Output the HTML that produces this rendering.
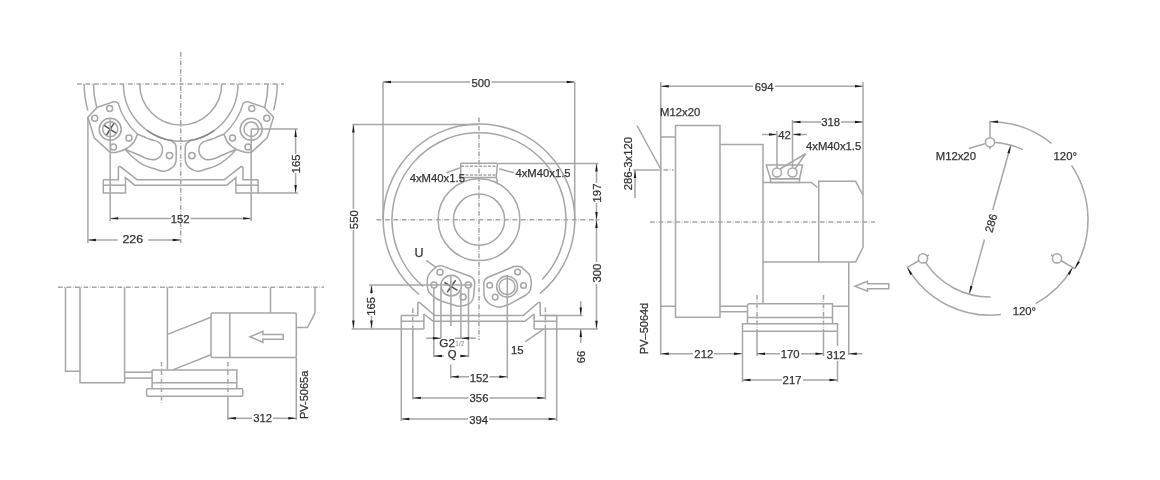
<!DOCTYPE html>
<html><head><meta charset="utf-8"><style>
html,body{margin:0;padding:0;background:#fff;overflow:hidden;}
svg{display:block;filter:grayscale(1);}
svg line, svg polyline, svg polygon, svg path, svg circle, svg rect{fill:none;stroke:#a6a6a6;stroke-width:1.5;}
svg .dd{stroke-dasharray:4.7 1.6 0.6 1.6;}
svg .ah{fill:#1a1a1a;stroke:none;}
svg .dk{stroke:#555;}
svg .dk2{stroke:#8a8a8a;}
svg .dash{stroke-dasharray:3 1.5;}
svg .wf{fill:#fff;}
svg text.tl{fill:#999;stroke:#999;stroke-width:0.1;}
svg text{font-family:"Liberation Sans",sans-serif;fill:#333;stroke:#333;stroke-width:0.25;}
</style></head><body>
<svg width="1160" height="480" viewBox="0 0 1160 480">
<line x1="77.00" y1="84.00" x2="284.00" y2="84.00" class="dd"/>
<line x1="180.70" y1="52.00" x2="180.70" y2="243.00" class="dd"/>
<path d="M221.70,84.00 A41.00,41.00 0 0 1 139.70,84.00"/>
<path d="M238.00,84.00 A57.30,57.30 0 0 1 123.40,84.00"/>
<path d="M84.20,84.00 A96.50,96.50 0 0 0 87.89,110.44"/>
<path d="M277.20,84.00 A96.50,96.50 0 0 1 273.51,110.44"/>
<path d="M93.50,84.00 A87.20,87.20 0 0 0 96.67,107.30"/>
<path d="M267.90,84.00 A87.20,87.20 0 0 1 264.73,107.30"/>
<path d="M87.90,117.2 L97.00,107.4 L113.60,101.8 Q116.30,101.2 118.20,103.4 A65.44,65.44 0 0 0 137.50,134.2 L137.50,134.20 C136.95,135.42 135.53,139.45 134.20,141.50 C132.87,143.55 131.03,145.22 129.50,146.50 C127.97,147.78 126.87,148.33 125.00,149.20 C123.13,150.07 120.38,151.13 118.30,151.70 C116.22,152.27 113.97,152.58 112.50,152.60 C111.03,152.62 110.00,151.93 109.50,151.80  L94.20,137.8 Z"/>
<circle cx="94.70" cy="118.30" r="3.00"/>
<circle cx="109.60" cy="108.60" r="3.00"/>
<circle cx="128.90" cy="137.90" r="3.00"/>
<circle cx="113.40" cy="147.10" r="3.00"/>
<path d="M125.00,149.20 C126.08,150.33 129.00,153.73 131.50,156.00 C134.00,158.27 137.42,161.07 140.00,162.80 C142.58,164.53 144.65,165.42 147.00,166.40 C149.35,167.38 151.93,167.98 154.10,168.70 C156.27,169.42 158.28,170.27 160.00,170.70 C161.72,171.13 163.02,171.42 164.40,171.30 C165.78,171.18 167.12,170.52 168.30,170.00 C169.48,169.48 170.52,168.97 171.50,168.20 C172.48,167.43 173.47,166.52 174.20,165.40 C174.93,164.28 175.57,163.07 175.90,161.50 C176.23,159.93 176.15,157.92 176.20,156.00 C176.25,154.08 176.25,151.67 176.20,150.00 C176.15,148.33 176.15,147.12 175.90,146.00 C175.65,144.88 175.37,144.07 174.70,143.30 C174.03,142.53 172.37,141.72 171.90,141.40 "/>
<path d="M137.50,134.20 C138.58,134.63 141.92,135.95 144.00,136.80 C146.08,137.65 148.23,138.67 150.00,139.30 C151.77,139.93 153.20,140.13 154.60,140.60 C156.00,141.07 157.33,141.42 158.40,142.10 C159.47,142.78 160.33,143.67 161.00,144.70 C161.67,145.73 162.20,147.03 162.40,148.30 C162.60,149.57 162.53,150.98 162.20,152.30 C161.87,153.62 161.40,155.05 160.40,156.20 C159.40,157.35 157.77,158.63 156.20,159.20 C154.63,159.77 152.70,159.77 151.00,159.60 C149.30,159.43 147.83,158.88 146.00,158.20 C144.17,157.52 142.33,156.52 140.00,155.50 C137.67,154.48 134.50,153.15 132.00,152.10 C129.50,151.05 126.17,149.68 125.00,149.20 "/>
<circle cx="169.50" cy="155.60" r="3.20"/>
<polyline points="103.30,179.80 118.40,179.80 118.40,167.60 119.20,166.60 120.60,166.80 137.20,179.80 180.70,179.80"/>
<polyline points="103.30,179.80 103.30,193.10 125.50,193.10 125.50,177.70 134.60,185.20 180.70,185.20"/>
<line x1="103.30" y1="185.20" x2="125.50" y2="185.20"/>
<path d="M273.50,117.2 L264.40,107.4 L247.80,101.8 Q245.10,101.2 243.20,103.4 A65.44,65.44 0 0 1 223.90,134.2 L223.90,134.20 C224.45,135.42 225.87,139.45 227.20,141.50 C228.53,143.55 230.37,145.22 231.90,146.50 C233.43,147.78 234.53,148.33 236.40,149.20 C238.27,150.07 241.02,151.13 243.10,151.70 C245.18,152.27 247.43,152.58 248.90,152.60 C250.37,152.62 251.40,151.93 251.90,151.80  L267.20,137.8 Z"/>
<circle cx="266.70" cy="118.30" r="3.00"/>
<circle cx="251.80" cy="108.60" r="3.00"/>
<circle cx="232.50" cy="137.90" r="3.00"/>
<circle cx="248.00" cy="147.10" r="3.00"/>
<path d="M236.40,149.20 C235.32,150.33 232.40,153.73 229.90,156.00 C227.40,158.27 223.98,161.07 221.40,162.80 C218.82,164.53 216.75,165.42 214.40,166.40 C212.05,167.38 209.47,167.98 207.30,168.70 C205.13,169.42 203.12,170.27 201.40,170.70 C199.68,171.13 198.38,171.42 197.00,171.30 C195.62,171.18 194.28,170.52 193.10,170.00 C191.92,169.48 190.88,168.97 189.90,168.20 C188.92,167.43 187.93,166.52 187.20,165.40 C186.47,164.28 185.83,163.07 185.50,161.50 C185.17,159.93 185.25,157.92 185.20,156.00 C185.15,154.08 185.15,151.67 185.20,150.00 C185.25,148.33 185.25,147.12 185.50,146.00 C185.75,144.88 186.03,144.07 186.70,143.30 C187.37,142.53 189.03,141.72 189.50,141.40 "/>
<path d="M223.90,134.20 C222.82,134.63 219.48,135.95 217.40,136.80 C215.32,137.65 213.17,138.67 211.40,139.30 C209.63,139.93 208.20,140.13 206.80,140.60 C205.40,141.07 204.07,141.42 203.00,142.10 C201.93,142.78 201.07,143.67 200.40,144.70 C199.73,145.73 199.20,147.03 199.00,148.30 C198.80,149.57 198.87,150.98 199.20,152.30 C199.53,153.62 200.00,155.05 201.00,156.20 C202.00,157.35 203.63,158.63 205.20,159.20 C206.77,159.77 208.70,159.77 210.40,159.60 C212.10,159.43 213.57,158.88 215.40,158.20 C217.23,157.52 219.07,156.52 221.40,155.50 C223.73,154.48 226.90,153.15 229.40,152.10 C231.90,151.05 235.23,149.68 236.40,149.20 "/>
<circle cx="191.90" cy="155.60" r="3.20"/>
<polyline points="258.10,179.80 243.00,179.80 243.00,167.60 242.20,166.60 240.80,166.80 224.20,179.80 180.70,179.80"/>
<polyline points="258.10,179.80 258.10,193.10 235.90,193.10 235.90,177.70 226.80,185.20 180.70,185.20"/>
<line x1="258.10" y1="185.20" x2="235.90" y2="185.20"/>
<path d="M147.02,130.36 A57.30,57.30 0 0 0 172.53,140.71" class="dk2"/>
<path d="M188.87,140.71 A57.30,57.30 0 0 0 214.38,130.36" class="dk2"/>
<circle cx="110.20" cy="129.20" r="11.00"/>
<circle cx="110.20" cy="129.20" r="7.50"/>
<line x1="104.30" y1="125.30" x2="116.10" y2="133.10" class="dk"/>
<line x1="113.90" y1="123.40" x2="106.50" y2="135.00" class="dk"/>
<circle cx="251.20" cy="129.20" r="11.00"/>
<circle cx="251.20" cy="129.20" r="7.20"/>
<line x1="87.90" y1="117.20" x2="87.90" y2="243.00"/>
<line x1="110.20" y1="118.00" x2="110.20" y2="221.00"/>
<line x1="251.20" y1="129.20" x2="251.20" y2="221.00"/>
<line x1="251.20" y1="129.10" x2="297.80" y2="129.10"/>
<line x1="258.10" y1="192.90" x2="297.80" y2="192.90"/>
<line x1="110.20" y1="218.40" x2="171.00" y2="218.40"/>
<line x1="190.50" y1="218.40" x2="251.20" y2="218.40"/>
<polygon class="ah" points="110.20,218.40 118.20,217.20 118.20,219.60"/>
<polygon class="ah" points="251.20,218.40 243.20,219.60 243.20,217.20"/>
<text x="180.07" y="222.90" font-size="11.3" text-anchor="middle" class="t">152</text>
<line x1="87.90" y1="240.00" x2="117.70" y2="240.00"/>
<line x1="148.40" y1="240.00" x2="180.70" y2="240.00"/>
<polygon class="ah" points="87.90,240.00 95.90,238.80 95.90,241.20"/>
<polygon class="ah" points="180.70,240.00 172.70,241.20 172.70,238.80"/>
<text x="132.84" y="243.25" font-size="11.3" text-anchor="middle" class="t" textLength="20.72" lengthAdjust="spacingAndGlyphs">226</text>
<line x1="295.60" y1="129.10" x2="295.60" y2="154.00"/>
<line x1="295.60" y1="173.00" x2="295.60" y2="192.90"/>
<polygon class="ah" points="295.60,129.10 296.80,137.10 294.40,137.10"/>
<polygon class="ah" points="295.60,192.90 294.40,184.90 296.80,184.90"/>
<text x="300.05" y="163.83" font-size="11.3" text-anchor="middle" class="t" transform="rotate(-90 300.05 163.83)">165</text>
<line x1="58.00" y1="287.30" x2="324.00" y2="287.30" class="dd"/>
<polyline points="65.50,287.30 65.50,371.25 80.00,371.25"/>
<polyline points="80.00,287.30 80.00,382.80 124.60,382.80 124.60,287.30"/>
<line x1="167.40" y1="287.30" x2="167.40" y2="369.90"/>
<line x1="124.60" y1="372.20" x2="152.10" y2="372.20"/>
<line x1="124.60" y1="378.10" x2="152.10" y2="378.10"/>
<path d="M152.1,369.9 L236.8,369.9 L236.8,388.8 M152.1,369.9 L152.1,388.8"/>
<line x1="152.10" y1="382.80" x2="236.80" y2="382.80"/>
<rect x="146.6" y="388.8" width="96.2" height="7.4" rx="1.2"/>
<line x1="167.40" y1="334.40" x2="211.00" y2="317.20"/>
<line x1="172.70" y1="369.90" x2="211.00" y2="354.70"/>
<rect x="211" y="312.9" width="85.3" height="44.5" rx="1.5"/>
<line x1="229.80" y1="312.90" x2="229.80" y2="357.40"/>
<line x1="270.50" y1="287.30" x2="270.50" y2="312.90"/>
<polyline points="296.30,327.60 307.40,327.60 315.00,313.10 315.00,287.30"/>
<polygon points="250.10,336.80 262.90,331.40 262.90,334.50 283.20,334.50 283.20,339.30 262.90,339.30 262.90,342.30"/>
<line x1="161.50" y1="361.90" x2="161.50" y2="403.70" class="dd"/>
<line x1="227.90" y1="361.90" x2="227.90" y2="396.20" class="dd"/>
<line x1="227.90" y1="396.20" x2="227.90" y2="420.00"/>
<line x1="296.30" y1="357.40" x2="296.30" y2="420.00"/>
<line x1="227.90" y1="418.30" x2="252.00" y2="418.30"/>
<line x1="273.00" y1="418.30" x2="296.30" y2="418.30"/>
<polygon class="ah" points="227.90,418.30 235.90,417.10 235.90,419.50"/>
<polygon class="ah" points="296.30,418.30 288.30,419.50 288.30,417.10"/>
<text x="262.60" y="422.45" font-size="11.3" text-anchor="middle" class="t">312</text>
<text x="307.65" y="394.83" font-size="11" text-anchor="middle" class="t" transform="rotate(-90 307.65 394.83)">PV-5065a</text>
<line x1="376.50" y1="219.70" x2="599.30" y2="219.70" class="dd"/>
<line x1="479.00" y1="117.50" x2="479.00" y2="340.00" class="dd"/>
<circle cx="479.00" cy="219.70" r="25.60"/>
<circle cx="479.00" cy="219.70" r="40.90"/>
<path d="M419.10,294.47 A95.80,95.80 0 1 1 540.19,293.41"/>
<path d="M423.31,286.54 A87.00,87.00 0 1 1 542.21,279.48"/>
<line x1="460.60" y1="163.30" x2="497.50" y2="163.30"/>
<line x1="460.70" y1="163.30" x2="460.70" y2="181.50"/>
<path d="M497.5,163.3 L496.3,176.5 L497.6,184.2"/>
<line x1="461.00" y1="166.30" x2="497.20" y2="166.30" class="dash"/>
<line x1="461.00" y1="175.00" x2="496.30" y2="175.00" class="dash"/>
<line x1="461.00" y1="177.40" x2="496.30" y2="177.40"/>
<line x1="446.40" y1="172.80" x2="461.30" y2="167.40"/>
<line x1="499.20" y1="168.80" x2="514.10" y2="172.80"/>
<text x="437.32" y="182.23" font-size="11.3" text-anchor="middle" class="t">4xM40x1.5</text>
<text x="543.02" y="177.00" font-size="11.3" text-anchor="middle" class="t">4xM40x1.5</text>
<path d="M427.3,279 Q428.5,272 437,266.6 Q439.5,265.2 442,265.9 L470.5,276.5 Q474.5,278.5 474.8,283 L473.6,296.5 Q472.8,302.5 467,304.8 Q462,306.8 457,306 L441,301 Q433,297.5 428.5,291.5 Q427,288 427.3,279 Z"/>
<circle cx="440.00" cy="272.30" r="3.00"/>
<circle cx="434.00" cy="285.00" r="3.00"/>
<circle cx="468.20" cy="285.00" r="3.00"/>
<circle cx="463.10" cy="296.90" r="3.00"/>
<circle cx="451.20" cy="285.60" r="10.30"/>
<line x1="444.40" y1="282.50" x2="457.50" y2="290.30" class="dk"/>
<line x1="455.60" y1="280.30" x2="447.20" y2="292.20" class="dk"/>
<path d="M483.8,282.3 Q484.5,279 487.5,277.5 L512,267.3 Q517,265.2 521.7,267.2 L528.5,273.5 Q531.2,276.5 531.3,283.5 L530.6,289.5 Q529.6,292.5 526,295 L510,303.8 Q503,307.2 497.5,307 Q493,306.5 489,303.5 Q485,300.5 484,295 Z"/>
<circle cx="489.70" cy="285.20" r="2.80"/>
<circle cx="517.60" cy="272.10" r="2.80"/>
<circle cx="523.50" cy="285.50" r="2.80"/>
<circle cx="495.20" cy="297.10" r="2.80"/>
<circle cx="507.10" cy="286.60" r="10.50"/>
<circle cx="507.10" cy="286.60" r="8.00"/>
<text x="418.91" y="256.75" font-size="12.5" text-anchor="middle" class="t">U</text>
<line x1="426.20" y1="260.40" x2="436.40" y2="267.70"/>
<polyline points="401.30,315.50 417.80,315.50 417.80,303.30 418.60,302.40 419.80,302.60 434.80,315.50 479.00,315.50"/>
<polyline points="401.30,315.50 401.30,321.25 423.90,321.25"/>
<polyline points="423.90,314.00 433.20,321.25 479.00,321.25"/>
<line x1="423.90" y1="314.00" x2="423.90" y2="329.00"/>
<polyline points="556.70,315.50 540.20,315.50 540.20,303.30 539.40,302.40 538.20,302.60 523.20,315.50 479.00,315.50"/>
<polyline points="556.70,315.50 556.70,321.25 534.10,321.25"/>
<polyline points="534.10,314.00 524.80,321.25 479.00,321.25"/>
<line x1="534.10" y1="314.00" x2="534.10" y2="329.00"/>
<line x1="351.70" y1="329.00" x2="423.90" y2="329.00"/>
<line x1="534.10" y1="329.00" x2="598.00" y2="329.00"/>
<line x1="401.30" y1="321.25" x2="401.30" y2="421.00"/>
<line x1="556.70" y1="321.25" x2="556.70" y2="421.00"/>
<line x1="412.80" y1="308.30" x2="412.80" y2="329.00" class="dd"/>
<line x1="412.80" y1="329.00" x2="412.80" y2="399.50"/>
<line x1="545.40" y1="307.50" x2="545.40" y2="329.00" class="dd"/>
<line x1="545.40" y1="329.00" x2="545.40" y2="399.50"/>
<line x1="433.80" y1="287.70" x2="433.80" y2="357.20"/>
<line x1="468.50" y1="287.70" x2="468.50" y2="357.20"/>
<line x1="440.90" y1="288.00" x2="440.90" y2="338.20"/>
<line x1="460.90" y1="290.00" x2="460.90" y2="338.20"/>
<line x1="450.90" y1="275.00" x2="450.90" y2="326.00"/>
<line x1="450.70" y1="364.50" x2="450.70" y2="378.50"/>
<line x1="507.30" y1="275.00" x2="507.30" y2="378.50"/>
<line x1="369.20" y1="285.00" x2="472.50" y2="285.00"/>
<line x1="352.50" y1="124.50" x2="478.00" y2="124.50"/>
<line x1="383.00" y1="82.00" x2="383.00" y2="219.70"/>
<line x1="574.70" y1="82.00" x2="574.70" y2="219.70"/>
<line x1="498.00" y1="163.40" x2="598.30" y2="163.40"/>
<line x1="383.00" y1="82.00" x2="470.00" y2="82.00"/>
<line x1="491.50" y1="82.00" x2="574.70" y2="82.00"/>
<polygon class="ah" points="383.00,82.00 391.00,80.80 391.00,83.20"/>
<polygon class="ah" points="574.70,82.00 566.70,83.20 566.70,80.80"/>
<text x="480.99" y="86.75" font-size="11.3" text-anchor="middle" class="t">500</text>
<line x1="353.40" y1="124.50" x2="353.40" y2="209.00"/>
<line x1="353.40" y1="230.00" x2="353.40" y2="328.50"/>
<polygon class="ah" points="353.40,124.50 354.60,132.50 352.20,132.50"/>
<polygon class="ah" points="353.40,328.50 352.20,320.50 354.60,320.50"/>
<text x="357.87" y="219.71" font-size="11.3" text-anchor="middle" class="t" transform="rotate(-90 357.87 219.71)">550</text>
<line x1="371.50" y1="284.90" x2="371.50" y2="294.00"/>
<line x1="371.50" y1="316.00" x2="371.50" y2="328.50"/>
<polygon class="ah" points="371.50,284.90 372.70,292.90 370.30,292.90"/>
<polygon class="ah" points="371.50,328.50 370.30,320.50 372.70,320.50"/>
<text x="375.10" y="306.33" font-size="11.3" text-anchor="middle" class="t" transform="rotate(-90 375.10 306.33)">165</text>
<line x1="596.50" y1="163.40" x2="596.50" y2="183.00"/>
<line x1="596.50" y1="203.00" x2="596.50" y2="219.90"/>
<polygon class="ah" points="596.50,163.40 597.70,171.40 595.30,171.40"/>
<polygon class="ah" points="596.50,219.90 595.30,211.90 597.70,211.90"/>
<text x="600.80" y="192.98" font-size="11.3" text-anchor="middle" class="t" transform="rotate(-90 600.80 192.98)">197</text>
<line x1="596.50" y1="219.90" x2="596.50" y2="262.00"/>
<line x1="596.50" y1="284.00" x2="596.50" y2="328.75"/>
<polygon class="ah" points="596.50,219.90 597.70,227.90 595.30,227.90"/>
<polygon class="ah" points="596.50,328.75 595.30,320.75 597.70,320.75"/>
<text x="600.60" y="273.01" font-size="11.3" text-anchor="middle" class="t" transform="rotate(-90 600.60 273.01)">300</text>
<line x1="545.00" y1="315.50" x2="582.50" y2="315.50"/>
<line x1="580.75" y1="301.25" x2="580.75" y2="315.50"/>
<polygon class="ah" points="580.75,315.50 579.55,307.50 581.95,307.50"/>
<line x1="580.75" y1="329.00" x2="580.75" y2="343.00"/>
<polygon class="ah" points="580.75,329.00 581.95,337.00 579.55,337.00"/>
<text x="584.95" y="357.04" font-size="11.3" text-anchor="middle" class="t" transform="rotate(-90 584.95 357.04)">66</text>
<text x="517.29" y="354.44" font-size="11.3" text-anchor="middle" class="t">15</text>
<line x1="525.20" y1="341.80" x2="543.50" y2="329.20"/>
<line x1="426.20" y1="338.20" x2="441.00" y2="338.20"/>
<line x1="455.00" y1="338.20" x2="475.80" y2="338.20"/>
<polygon class="ah" points="440.90,338.20 432.90,339.40 432.90,337.00"/>
<polygon class="ah" points="460.90,338.20 468.90,337.00 468.90,339.40"/>
<rect x="438.5" y="339.2" width="26" height="9" class="wf" style="stroke:none"/>
<text x="447.12" y="346.57" font-size="11.8" text-anchor="middle" class="t">G2</text>
<text x="459.80" y="346.27" font-size="6.5" text-anchor="middle" class="tl">1/2</text>
<line x1="433.80" y1="356.00" x2="444.00" y2="356.00"/>
<line x1="460.00" y1="356.00" x2="468.50" y2="356.00"/>
<polygon class="ah" points="433.80,356.00 441.80,354.80 441.80,357.20"/>
<polygon class="ah" points="468.50,356.00 460.50,357.20 460.50,354.80"/>
<text x="452.09" y="357.68" font-size="11.3" text-anchor="middle" class="t">Q</text>
<line x1="450.70" y1="376.80" x2="469.00" y2="376.80"/>
<line x1="489.50" y1="376.80" x2="507.30" y2="376.80"/>
<polygon class="ah" points="450.70,376.80 458.70,375.60 458.70,378.00"/>
<polygon class="ah" points="507.30,376.80 499.30,378.00 499.30,375.60"/>
<text x="479.17" y="381.85" font-size="11.3" text-anchor="middle" class="t">152</text>
<line x1="412.80" y1="397.90" x2="468.50" y2="397.90"/>
<line x1="489.50" y1="397.90" x2="545.40" y2="397.90"/>
<polygon class="ah" points="412.80,397.90 420.80,396.70 420.80,399.10"/>
<polygon class="ah" points="545.40,397.90 537.40,399.10 537.40,396.70"/>
<text x="479.00" y="402.45" font-size="11.3" text-anchor="middle" class="t">356</text>
<line x1="401.30" y1="419.00" x2="468.00" y2="419.00"/>
<line x1="489.00" y1="419.00" x2="556.70" y2="419.00"/>
<polygon class="ah" points="401.30,419.00 409.30,417.80 409.30,420.20"/>
<polygon class="ah" points="556.70,419.00 548.70,420.20 548.70,417.80"/>
<text x="478.59" y="423.65" font-size="11.3" text-anchor="middle" class="t">394</text>
<line x1="650.00" y1="222.00" x2="875.00" y2="222.00" class="dd"/>
<line x1="660.75" y1="86.25" x2="753.00" y2="86.25"/>
<line x1="775.00" y1="86.25" x2="863.00" y2="86.25"/>
<polygon class="ah" points="660.75,86.25 668.75,85.05 668.75,87.45"/>
<polygon class="ah" points="863.00,86.25 855.00,87.45 855.00,85.05"/>
<text x="764.23" y="90.80" font-size="11.3" text-anchor="middle" class="t">694</text>
<line x1="660.75" y1="82.00" x2="660.75" y2="355.00"/>
<line x1="863.00" y1="82.00" x2="863.00" y2="195.00"/>
<polyline points="660.75,137.00 675.50,137.00"/>
<line x1="660.75" y1="306.25" x2="675.50" y2="306.25"/>
<rect x="675.5" y="125.5" width="44.5" height="191.8"/>
<polyline points="720.00,144.50 763.00,144.50 763.00,303.75"/>
<polyline points="763.00,182.50 811.25,182.50 817.50,187.50"/>
<polygon points="766.25,165.00 802.50,165.00 799.50,178.75 770.50,178.75"/>
<rect x="770.5" y="178.75" width="29" height="3.75"/>
<circle cx="777.00" cy="172.50" r="4.50"/>
<circle cx="792.50" cy="172.50" r="4.50"/>
<path d="M818.75,262 L818.75,181.3 L855.6,181.3 L863,195.5 L863,247.3 L855.6,262 Z"/>
<line x1="763.00" y1="262.00" x2="818.75" y2="262.00"/>
<polyline points="848.75,262.00 848.75,355.00"/>
<line x1="832.50" y1="306.25" x2="848.75" y2="306.25"/>
<path d="M747.5,323.75 L747.5,305.75 Q747.5,303.75 749.5,303.75 L832.5,303.75 L832.5,323.75"/>
<line x1="747.50" y1="317.50" x2="832.50" y2="317.50"/>
<rect x="742.5" y="323.75" width="95" height="7.5"/>
<line x1="720.00" y1="306.25" x2="747.50" y2="306.25"/>
<line x1="720.00" y1="311.75" x2="747.50" y2="311.75"/>
<line x1="757.00" y1="295.00" x2="757.00" y2="331.00" class="dd"/>
<line x1="757.00" y1="331.00" x2="757.00" y2="356.00"/>
<line x1="823.50" y1="295.00" x2="823.50" y2="331.00" class="dd"/>
<line x1="823.50" y1="331.00" x2="823.50" y2="356.00"/>
<line x1="742.50" y1="331.25" x2="742.50" y2="382.00"/>
<line x1="837.50" y1="331.25" x2="837.50" y2="346.00"/>
<line x1="837.50" y1="361.00" x2="837.50" y2="382.00"/>
<line x1="660.75" y1="353.75" x2="693.00" y2="353.75"/>
<line x1="714.00" y1="353.75" x2="742.00" y2="353.75"/>
<polygon class="ah" points="660.75,353.75 668.75,352.55 668.75,354.95"/>
<polygon class="ah" points="742.00,353.75 734.00,354.95 734.00,352.55"/>
<text x="703.79" y="358.25" font-size="11.3" text-anchor="middle" class="t">212</text>
<line x1="757.00" y1="353.75" x2="780.00" y2="353.75"/>
<line x1="801.00" y1="353.75" x2="823.50" y2="353.75"/>
<polygon class="ah" points="757.00,353.75 765.00,352.55 765.00,354.95"/>
<polygon class="ah" points="823.50,353.75 815.50,354.95 815.50,352.55"/>
<text x="790.17" y="358.40" font-size="11.3" text-anchor="middle" class="t">170</text>
<line x1="848.75" y1="353.75" x2="862.50" y2="353.75"/>
<polygon class="ah" points="848.75,353.75 856.75,352.55 856.75,354.95"/>
<text x="836.05" y="358.90" font-size="11.3" text-anchor="middle" class="t">312</text>
<line x1="742.50" y1="380.00" x2="782.00" y2="380.00"/>
<line x1="803.00" y1="380.00" x2="837.50" y2="380.00"/>
<polygon class="ah" points="742.50,380.00 750.50,378.80 750.50,381.20"/>
<polygon class="ah" points="837.50,380.00 829.50,381.20 829.50,378.80"/>
<text x="792.04" y="384.31" font-size="11.3" text-anchor="middle" class="t">217</text>
<text x="647.56" y="328.45" font-size="11" text-anchor="middle" class="t" transform="rotate(-90 647.56 328.45)">PV–5064d</text>
<text x="680.21" y="115.90" font-size="11.3" text-anchor="middle" class="t">M12x20</text>
<line x1="637.00" y1="125.50" x2="660.50" y2="168.75"/>
<line x1="633.30" y1="170.00" x2="655.00" y2="170.00"/>
<line x1="655.00" y1="170.00" x2="673.60" y2="170.00" class="dd"/>
<line x1="635.00" y1="170.00" x2="635.00" y2="198.00"/>
<polygon class="ah" points="635.00,170.00 636.20,178.00 633.80,178.00"/>
<text x="631.70" y="163.58" font-size="11.3" text-anchor="middle" class="t" transform="rotate(-90 631.70 163.58)">286-3x120</text>
<line x1="792.50" y1="122.00" x2="821.00" y2="122.00"/>
<line x1="841.00" y1="122.00" x2="863.00" y2="122.00"/>
<polygon class="ah" points="792.50,122.00 800.50,120.80 800.50,123.20"/>
<polygon class="ah" points="863.00,122.00 855.00,123.20 855.00,120.80"/>
<text x="830.70" y="126.10" font-size="11.3" text-anchor="middle" class="t">318</text>
<line x1="762.00" y1="134.50" x2="777.00" y2="134.50"/>
<line x1="792.50" y1="134.50" x2="807.00" y2="134.50"/>
<polygon class="ah" points="777.00,134.50 769.00,135.70 769.00,133.30"/>
<polygon class="ah" points="792.50,134.50 800.50,133.30 800.50,135.70"/>
<text x="784.58" y="138.51" font-size="11.3" text-anchor="middle" class="t">42</text>
<line x1="777.00" y1="131.00" x2="777.00" y2="168.00"/>
<line x1="792.50" y1="120.00" x2="792.50" y2="168.00"/>
<text x="833.62" y="150.25" font-size="11.3" text-anchor="middle" class="t">4xM40x1.5</text>
<line x1="805.50" y1="153.75" x2="780.00" y2="169.00"/>
<line x1="805.50" y1="153.75" x2="795.00" y2="169.00"/>
<polygon points="855.00,286.25 867.50,281.25 867.50,283.75 888.75,283.75 888.75,288.75 867.50,288.75 867.50,291.25"/>
<circle cx="990.00" cy="142.30" r="4.60"/>
<line x1="990.00" y1="149.20" x2="990.00" y2="147.30"/>
<line x1="990.00" y1="138.10" x2="990.00" y2="120.80"/>
<circle cx="922.97" cy="258.40" r="4.60"/>
<line x1="928.95" y1="254.95" x2="927.30" y2="255.90"/>
<line x1="919.33" y1="260.50" x2="906.86" y2="267.70"/>
<circle cx="1057.03" cy="258.40" r="4.60"/>
<line x1="1051.05" y1="254.95" x2="1052.70" y2="255.90"/>
<line x1="1060.67" y1="260.50" x2="1075.30" y2="268.95"/>
<path d="M994.73,142.44 A77.40,77.40 0 0 1 1022.96,149.67"/>
<path d="M925.46,262.42 A77.40,77.40 0 0 0 990.54,297.10"/>
<path d="M990.00,121.70 A98.00,98.00 0 0 1 1051.67,143.54"/>
<path d="M1071.53,165.33 A98.00,98.00 0 0 1 1074.87,268.70"/>
<polygon class="ah" points="990.00,121.70 998.00,120.50 998.00,122.90"/>
<polygon class="ah" points="1074.87,268.70 1077.83,261.17 1079.91,262.37"/>
<path d="M907.29,267.45 A95.50,95.50 0 0 0 1000.98,314.57"/>
<path d="M1035.72,303.55 A95.50,95.50 0 0 0 1072.71,267.45"/>
<polygon class="ah" points="907.29,267.45 912.33,273.78 910.26,274.98"/>
<polygon class="ah" points="1072.71,267.45 1069.74,274.98 1067.67,273.78"/>
<text x="1065.28" y="159.80" font-size="11.3" text-anchor="middle" class="t">120°</text>
<text x="1024.38" y="315.15" font-size="11.3" text-anchor="middle" class="t">120°</text>
<line x1="1010.69" y1="145.53" x2="992.69" y2="210.07"/>
<line x1="984.49" y1="239.45" x2="969.31" y2="293.87"/>
<polygon class="ah" points="1010.69,145.53 1009.69,153.56 1007.38,152.91"/>
<polygon class="ah" points="969.31,293.87 970.31,285.84 972.62,286.49"/>
<text x="994.85" y="224.15" font-size="11.3" text-anchor="middle" class="t" transform="rotate(-74.5 994.85 224.15)">286</text>
<text x="955.86" y="159.60" font-size="11.3" text-anchor="middle" class="t">M12x20</text>
<line x1="968.75" y1="148.50" x2="985.00" y2="143.80"/>
</svg>
</body></html>
